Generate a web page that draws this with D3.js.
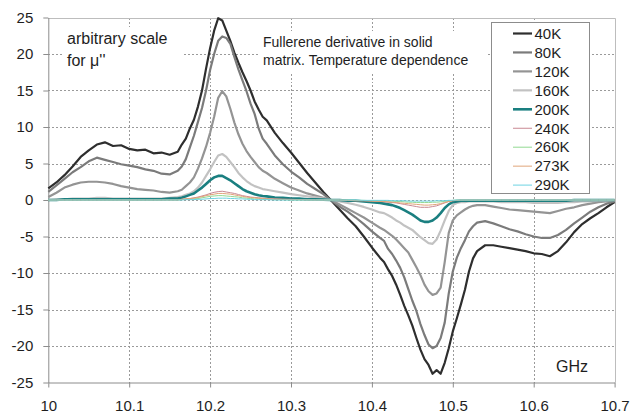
<!DOCTYPE html>
<html>
<head>
<meta charset="utf-8">
<script src="https://cdn.jsdelivr.net/npm/d3@7"></script>
<style>
  body { margin: 0; background: #fff; }
  svg { display: block; font-family: "Liberation Sans", Arial, sans-serif; }
</style>
</head>
<body>
<svg id="chart" width="630" height="414"></svg>
<script>
// Frequency grid (GHz), denser around the two resonance features
const freq = [
  10.00,10.01,10.02,10.03,10.04,10.05,10.06,10.07,10.08,10.09,10.10,10.11,10.12,10.13,10.14,10.15,10.16,
  10.165,10.17,10.175,10.18,10.185,10.19,10.195,10.20,10.205,10.21,10.215,10.22,10.225,10.23,10.235,10.24,10.245,10.25,10.255,10.26,10.265,
  10.27,10.28,10.29,10.30,10.31,10.32,10.33,10.34,10.35,10.36,10.37,10.38,10.39,10.40,10.41,
  10.415,10.42,10.425,10.43,10.435,10.44,10.445,10.45,10.455,10.46,10.465,10.47,10.475,10.48,10.485,10.49,10.495,10.50,10.505,10.51,10.515,10.52,10.525,10.53,
  10.54,10.55,10.56,10.57,10.58,10.59,10.60,10.61,10.62,10.63,10.64,10.65,10.66,10.67,10.68,10.69,10.70
];

// Second derivative signal (arbitrary units) per temperature
const v40K = [
  1.6,2.4,3.4,4.6,5.9,6.8,7.6,7.9,7.4,7.5,7.0,6.8,6.9,6.4,6.5,6.2,6.6,
  7.6,8.4,9.8,11.0,12.8,15.0,18.0,20.8,23.2,24.9,24.6,23.2,21.8,20.2,18.8,17.5,16.3,15.0,13.5,12.4,11.4,
  10.9,9.2,7.8,6.5,5.1,3.7,2.4,1.1,-0.1,-1.3,-2.5,-3.6,-5.0,-6.5,-7.9,
  -8.5,-9.5,-10.4,-11.6,-13.0,-14.5,-15.8,-17.2,-18.9,-20.5,-21.8,-22.6,-23.8,-23.3,-23.8,-22.3,-20.3,-18.0,-16.2,-14.3,-12.3,-9.8,-8.0,-7.0,
  -6.2,-6.2,-6.4,-6.6,-6.8,-7.0,-7.3,-7.4,-7.7,-7.0,-5.8,-4.4,-3.3,-2.5,-1.8,-1.0,-0.3
];
const v80K = [
  1.1,2.0,2.9,3.8,4.5,5.3,5.8,5.5,5.2,4.9,4.7,4.5,4.2,4.0,3.6,3.5,4.0,
  4.6,5.6,7.2,8.8,10.7,12.6,15.0,17.8,20.0,21.8,22.4,22.2,21.4,19.6,17.9,16.4,14.9,13.2,11.8,9.8,8.4,
  7.7,6.1,4.9,3.9,3.1,2.2,1.5,0.8,-0.1,-0.9,-1.6,-2.4,-3.3,-4.3,-5.2,
  -5.6,-6.7,-7.4,-8.3,-9.3,-10.6,-12.2,-13.8,-15.2,-17.0,-18.5,-19.8,-20.3,-20.0,-18.9,-16.8,-12.8,-9.8,-7.9,-6.6,-5.5,-4.3,-3.6,-3.1,
  -2.9,-3.2,-3.6,-4.0,-4.3,-4.7,-5.0,-5.2,-5.2,-4.8,-4.1,-3.2,-2.4,-1.6,-1.0,-0.5,-0.2
];
const v120K = [
  0.4,1.0,1.7,2.1,2.4,2.5,2.5,2.4,2.2,1.9,1.7,1.5,1.4,1.3,1.1,1.0,1.2,
  1.4,1.9,2.4,3.1,4.3,5.7,7.3,9.2,11.4,14.0,14.9,14.2,12.5,10.6,9.0,7.7,6.7,5.9,5.2,4.5,4.0,
  3.7,2.9,2.3,1.7,1.3,0.9,0.6,0.3,0.0,-0.6,-1.2,-1.8,-2.4,-3.1,-3.8,
  -4.1,-4.5,-4.9,-5.4,-6.0,-6.6,-7.2,-8.2,-9.2,-10.3,-11.6,-12.5,-13.0,-12.8,-12.0,-8.5,-4.5,-2.8,-2.1,-1.7,-1.3,-1.0,-0.8,-0.7,
  -0.7,-0.9,-1.1,-1.3,-1.4,-1.5,-1.6,-1.7,-1.8,-1.5,-1.2,-1.0,-0.7,-0.5,-0.3,-0.2,-0.1
];
const v160K = [
  0.0,0.1,0.1,0.2,0.2,0.2,0.3,0.3,0.2,0.2,0.2,0.2,0.2,0.2,0.2,0.3,0.4,
  0.5,0.7,0.9,1.2,1.7,2.4,3.3,4.2,5.2,6.1,6.3,5.9,5.2,4.5,3.7,3.1,2.6,2.2,1.9,1.7,1.5,
  1.4,1.2,1.0,0.8,0.65,0.5,0.35,0.2,0.0,-0.2,-0.4,-0.65,-0.95,-1.3,-1.7,
  -1.8,-2.1,-2.4,-2.8,-3.1,-3.5,-3.8,-4.1,-4.6,-5.1,-5.5,-5.9,-6.0,-5.4,-4.2,-2.8,-1.5,-0.7,-0.4,-0.3,-0.3,-0.2,-0.2,-0.2,
  -0.2,-0.2,-0.3,-0.3,-0.3,-0.3,-0.4,-0.4,-0.4,-0.4,-0.3,-0.3,-0.2,-0.2,-0.1,-0.1,0.0
];
const v200K = [
  0.0,0.0,0.1,0.1,0.1,0.1,0.1,0.1,0.1,0.1,0.1,0.1,0.1,0.1,0.1,0.2,0.2,
  0.3,0.5,0.7,0.9,1.3,1.7,2.2,2.7,3.1,3.3,3.3,3.0,2.7,2.3,1.9,1.5,1.2,1.0,0.8,0.65,0.55,
  0.5,0.35,0.3,0.2,0.2,0.1,0.1,0.05,0.0,0.0,-0.1,-0.1,-0.2,-0.3,-0.4,
  -0.5,-0.6,-0.7,-0.9,-1.1,-1.4,-1.7,-2.0,-2.4,-2.8,-3.0,-3.0,-2.8,-2.4,-1.8,-1.1,-0.6,-0.3,-0.2,-0.1,-0.1,-0.1,-0.1,-0.1,
  -0.1,-0.1,-0.1,-0.1,-0.1,-0.1,-0.1,-0.1,-0.1,-0.1,-0.1,0,0,0,0,0,0
];
const v240K = [
  0,0,0,0,0,0,0,0,0,0,0,0,0,0,0,0,0,
  0.1,0.15,0.2,0.3,0.4,0.55,0.7,0.9,1.05,1.15,1.2,1.1,1.0,0.9,0.75,0.6,0.5,0.4,0.35,0.3,0.25,
  0.2,0.15,0.1,0.1,0.05,0.05,0,0,0,0,-0.05,-0.1,-0.1,-0.15,-0.2,
  -0.25,-0.3,-0.35,-0.4,-0.5,-0.6,-0.7,-0.8,-0.9,-1.0,-1.0,-1.0,-0.9,-0.8,-0.6,-0.4,-0.2,-0.1,-0.05,0,0,0,0,0,
  0,0,0,0,0,0,0,0,0,0,0,0,0,0,0,0,0
];
const v260K = [
  0,0,0,0,0,0,0,0,0,0,0,0,0,0,0,0,0,
  0.05,0.1,0.1,0.15,0.2,0.3,0.4,0.5,0.55,0.6,0.6,0.55,0.5,0.45,0.4,0.3,0.25,0.2,0.15,0.15,0.1,
  0.1,0.05,0.05,0,0,0,0,0,0,0,0,-0.05,-0.05,-0.1,-0.1,
  -0.1,-0.15,-0.15,-0.2,-0.2,-0.25,-0.3,-0.3,-0.35,-0.35,-0.35,-0.35,-0.3,-0.3,-0.25,-0.2,-0.1,-0.05,0,0,0,0,0,0,
  0,0,0,0,0,0,0,0,0,0,0,0,0,0,0,0,0
];
const v273K = [
  0,0,0,0,0,0,0,0,0,0,0,0,0,0,0,0,0,
  0.1,0.15,0.2,0.25,0.35,0.45,0.6,0.7,0.8,0.9,0.9,0.85,0.8,0.7,0.6,0.5,0.4,0.35,0.3,0.25,0.2,
  0.15,0.1,0.1,0.05,0.05,0,0,0,0,0,-0.05,-0.1,-0.1,-0.15,-0.2,
  -0.2,-0.25,-0.3,-0.35,-0.4,-0.45,-0.5,-0.55,-0.6,-0.65,-0.7,-0.7,-0.65,-0.6,-0.5,-0.35,-0.2,-0.1,-0.05,0,0,0,0,0,
  0,0,0,0,0,0,0,0,0,0,0,0,0,0,0,0,0
];
const v290K = [
  0,0,0,0,0,0,0,0,0,0,0,0,0,0,0,0,0,
  0,0.05,0.05,0.05,0.1,0.1,0.15,0.2,0.2,0.25,0.25,0.25,0.2,0.2,0.15,0.15,0.1,0.1,0.05,0.05,0.05,
  0.05,0,0,0,0,0,0,0,0,0,0,0,-0.05,-0.05,-0.05,
  -0.05,-0.05,-0.1,-0.1,-0.1,-0.1,-0.15,-0.15,-0.15,-0.15,-0.15,-0.15,-0.15,-0.1,-0.1,-0.1,-0.05,-0.05,0,0,0,0,0,0,
  0,0,0,0,0,0,0,0,0,0,0,0,0,0,0,0,0
];

const temps = ["40K","80K","120K","160K","200K","240K","260K","273K","290K"];
const xTicks = [10, 10.1, 10.2, 10.3, 10.4, 10.5, 10.6, 10.7];
const yTicks = [25, 20, 15, 10, 5, 0, -5, -10, -15, -20, -25];

// Line styling per temperature
const styles = {
  "40K":  { color: "#2e2e2e", width: 2.2 },
  "80K":  { color: "#7b7b7b", width: 2.2 },
  "120K": { color: "#949494", width: 2.2 },
  "160K": { color: "#c2c2c2", width: 2.2 },
  "200K": { color: "#1a7f80", width: 2.6 },
  "240K": { color: "#c98892", width: 1 },
  "260K": { color: "#92d992", width: 1 },
  "273K": { color: "#e0a57a", width: 1 },
  "290K": { color: "#6dd3e2", width: 1 }
};
const seriesValues = [v40K, v80K, v120K, v160K, v200K, v240K, v260K, v273K, v290K];
const series = temps.map((t, i) => ({
  name: t,
  points: freq.map((f, j) => ({ f, v: seriesValues[i][j] }))
}));

const svg = d3.select("#chart");
const plotL = 48.3, plotR = 614.6, plotT = 17.5, plotB = 382.5;
const x = d3.scaleLinear().domain([10, 10.7]).range([plotL, plotR]);
const y = d3.scaleLinear().domain([-25, 25]).range([plotB, plotT]);

// Dotted grid
const grid = svg.append("g").attr("stroke", "#9a9a9a").attr("stroke-width", 1)
  .attr("stroke-dasharray", "2,2").attr("shape-rendering", "crispEdges");
grid.selectAll("line.h").data(yTicks.filter(d => d > -25 && d < 25)).join("line")
  .attr("class", "h")
  .attr("x1", plotL).attr("x2", plotR)
  .attr("y1", d => Math.round(y(d)) + 0.5).attr("y2", d => Math.round(y(d)) + 0.5);
grid.selectAll("line.v").data(xTicks.filter(d => d > 10 && d < 10.7)).join("line")
  .attr("class", "v")
  .attr("y1", plotT).attr("y2", plotB)
  .attr("x1", d => Math.round(x(d)) + 0.5).attr("x2", d => Math.round(x(d)) + 0.5);

// Plot frame (top and right edges)
svg.append("path")
  .attr("d", `M${plotL},${Math.round(plotT) + 0.5}H${Math.round(plotR) + 0.5}V${plotB}`)
  .attr("fill", "none").attr("stroke", "#bdbdbd").attr("stroke-width", 1);

// White boxes behind the annotations
svg.append("rect").attr("x", 62).attr("y", 27).attr("width", 120).attr("height", 50).attr("fill", "#fff");
svg.append("rect").attr("x", 258).attr("y", 31).attr("width", 230).attr("height", 41).attr("fill", "#fff");

// Axes
const yAxis = d3.axisLeft(y).tickValues(yTicks).tickSize(5).tickSizeOuter(0)
  .tickPadding(10).tickFormat(d => String(d));
const gy = svg.append("g").attr("transform", `translate(${plotL},0)`).call(yAxis);
const xAxis = d3.axisBottom(x).tickValues(xTicks).tickSize(5).tickSizeOuter(0)
  .tickPadding(13).tickFormat(d => String(d));
const gx = svg.append("g").attr("transform", `translate(0,${plotB})`).call(xAxis);
[gx, gy].forEach(g => {
  g.select(".domain").attr("stroke", "#8c8c8c");
  g.selectAll(".tick line").attr("stroke", "#8c8c8c");
  g.selectAll(".tick text").attr("fill", "#1e1e1e")
    .style("font-size", "15px").style("font-family", "'Liberation Sans', Arial, sans-serif");
});

// Curves
const line = d3.line().x(d => x(d.f)).y(d => y(d.v));
svg.append("g").selectAll("path").data(series).join("path")
  .attr("d", d => line(d.points))
  .attr("fill", "none")
  .attr("stroke", d => styles[d.name].color)
  .attr("stroke-width", d => styles[d.name].width)
  .attr("stroke-linejoin", "round");

// Annotations
const note = svg.append("g").attr("fill", "#1e1e1e");
note.append("text").attr("x", 67).attr("y", 44).style("font-size", "16px").text("arbitrary scale");
note.append("text").attr("x", 67).attr("y", 66).style("font-size", "16px").text("for μ''");
note.append("text").attr("x", 263).attr("y", 47).style("font-size", "14px").text("Fullerene derivative in solid");
note.append("text").attr("x", 263).attr("y", 64.5).style("font-size", "14px").text("matrix. Temperature dependence");
note.append("text").attr("x", 556).attr("y", 372).style("font-size", "16px").text("GHz");

// Legend
const legend = svg.append("g");
legend.append("rect").attr("x", 491.5).attr("y", 22.5).attr("width", 98).attr("height", 171)
  .attr("fill", "#fff").attr("stroke", "#8c8c8c").attr("stroke-width", 1);
const items = legend.selectAll("g.item").data(temps).join("g")
  .attr("class", "item")
  .attr("transform", (d, i) => `translate(0,${33.5 + i * 18.95})`);
items.append("line").attr("x1", 513).attr("x2", 532).attr("y1", 0).attr("y2", 0)
  .attr("stroke", d => styles[d].color)
  .attr("stroke-width", d => styles[d].width);
items.append("text").attr("x", 534.5).attr("y", 0).attr("dy", "0.35em")
  .attr("fill", "#1e1e1e").style("font-size", "15px").text(d => d);
</script>
</body>
</html>
